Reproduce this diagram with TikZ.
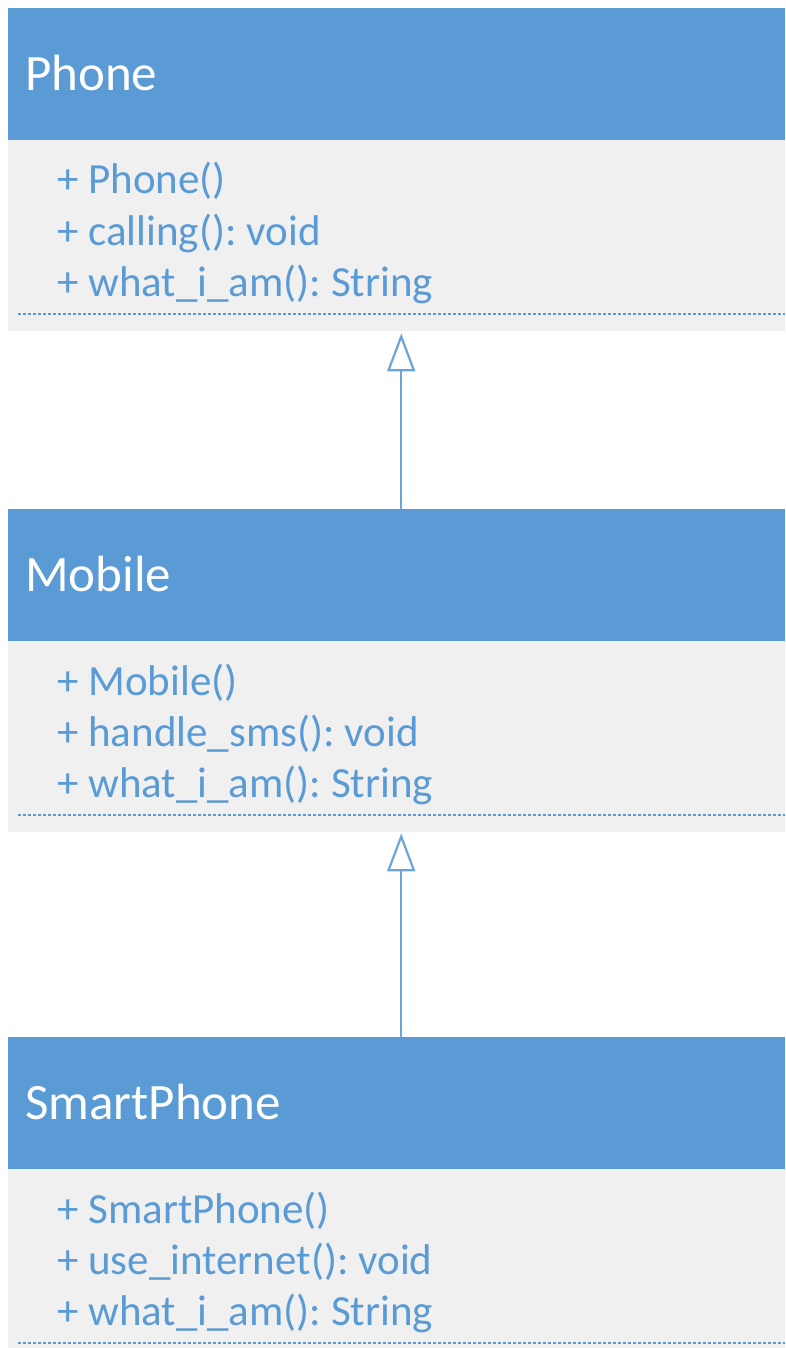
\documentclass[tikz,border=0pt]{standalone}
\usepackage{fontspec}
\setmainfont{Carlito}
\usetikzlibrary{arrows.meta}
\frenchspacing

\definecolor{umlblue}{HTML}{5B9BD5}
\definecolor{umlgray}{HTML}{F0F0F0}

\tikzset{
  classhead/.style={fill=umlblue, minimum width=777pt, minimum height=132pt, inner sep=0pt, anchor=north west},
  classbody/.style={fill=umlgray, minimum width=777pt, minimum height=191pt, inner sep=0pt, anchor=north west},
  classname/.style={text=white, font=\fontsize{51}{61}\selectfont, inner sep=0pt, anchor=base west},
  member/.style={text=umlblue, font=\fontsize{43}{51}\selectfont, inner sep=0pt, anchor=base west},
  dotline/.style={umlblue, line width=1.3pt, dash pattern=on 3pt off 2pt},
  inherit/.style={umlblue!90, line width=2.2pt, -{Triangle[open, width=28pt, length=38pt]}}
}

\begin{document}
\begin{tikzpicture}[x=1pt,y=-1pt]
\clip (0,0) rectangle (785,1348);
\fill[white] (0,0) rectangle (785,1348);

% Phone
\node[classhead] (phonehead) at (8,8) {};
\node[classbody] (phonebody) at (8,140) {};
\node[classname] (phonename) at (25,90.5) {Phone};
\node[member] (phonem1) at (57,194) {+ Phone()};
\node[member] (phonem2) at (57,245) {+ calling(): void};
\node[member] (phonem3) at (57,296) {+ what\_i\_am(): String};
\draw[dotline] (18,314) -- (785,314);

% Mobile
\node[classhead] (mobilehead) at (8,509) {};
\node[classbody] (mobilebody) at (8,641) {};
\node[classname] (mobilename) at (25,591.5) {Mobile};
\node[member] (mobilem1) at (57,695) {+ Mobile()};
\node[member] (mobilem2) at (57,746) {+ handle\_sms(): void};
\node[member] (mobilem3) at (57,797) {+ what\_i\_am(): String};
\draw[dotline] (18,815) -- (785,815);

% SmartPhone
\node[classhead] (smarthead) at (8,1037) {};
\node[classbody] (smartbody) at (8,1169) {};
\node[classname] (smartname) at (25,1119.5) {SmartPhone};
\node[member] (smartm1) at (57,1223) {+ SmartPhone()};
\node[member] (smartm2) at (57,1274) {+ use\_internet(): void};
\node[member] (smartm3) at (57,1325) {+ what\_i\_am(): String};
\draw[dotline] (18,1343) -- (785,1343);

% generalisation
\draw[inherit] ([xshift=4.5pt]mobilehead.north) -- ([xshift=4.5pt,yshift=-2pt]phonebody.south);
\draw[inherit] ([xshift=4.5pt]smarthead.north) -- ([xshift=4.5pt,yshift=-1pt]mobilebody.south);
\end{tikzpicture}
\end{document}
